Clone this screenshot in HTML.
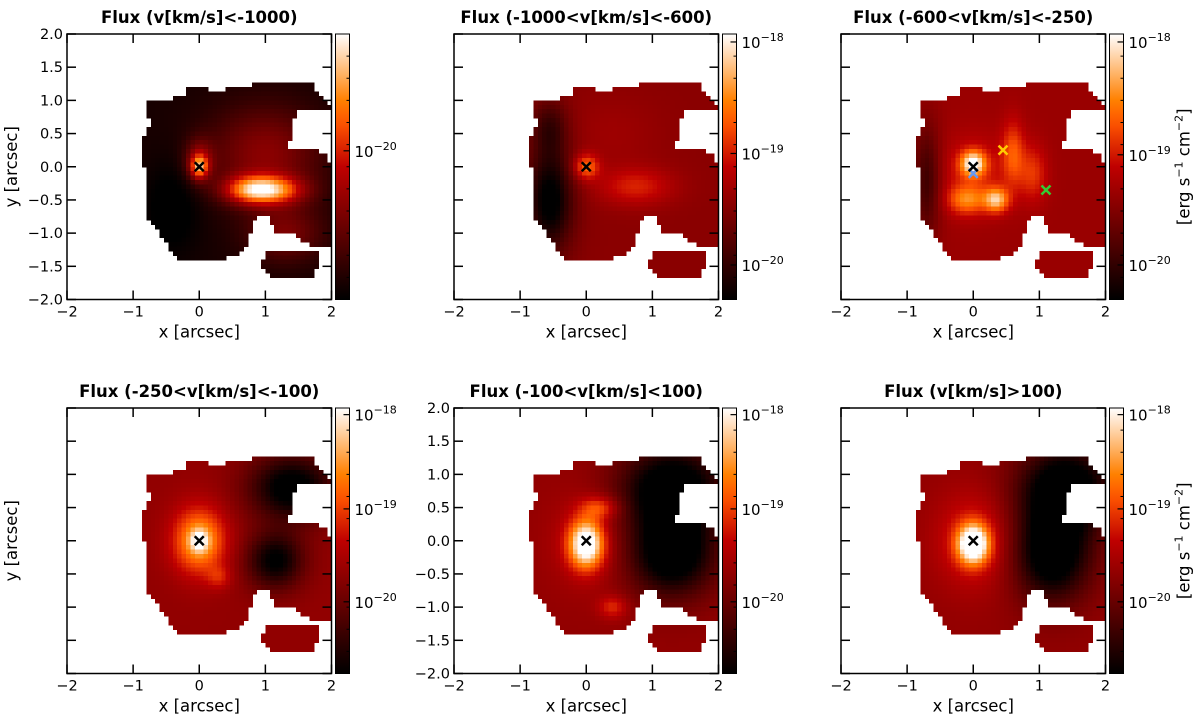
<!DOCTYPE html>
<html><head><meta charset="utf-8"><style>
body{margin:0;background:#fff;}
svg{display:block;font-family:"DejaVu Sans","Liberation Sans",sans-serif;}
</style></head><body>
<svg id="fig" width="1200" height="716" viewBox="0 0 1200 716"></svg>
<script>
// ---- data ----
const panelTitles=["Flux (v[km/s]<-1000)","Flux (-1000<v[km/s]<-600)","Flux (-600<v[km/s]<-250)","Flux (-250<v[km/s]<-100)","Flux (-100<v[km/s]<100)","Flux (v[km/s]>100)"];
const xTicks=[-2,-1,0,1,2];
const yTicks=[-2.0,-1.5,-1.0,-0.5,0.0,0.5,1.0,1.5,2.0];
const panelBg=[0.06,0.36,0.4,0.38,0.38,0.38];
// blobs: [x, y, sx, sy, amplitude]
const blobs1=[[1.0,0.2,0.6,0.5,0.3],[1.1,-0.35,0.35,0.15,0.55],[0.75,-0.35,0.3,0.15,0.4],[0,0,0.09,0.12,0.55],[0,0.1,0.15,0.22,0.3],[1.3,-1.0,0.4,0.3,0.25],[-0.4,-0.6,0.3,0.5,-0.1]];
const blobs2=[[0,0,0.13,0.13,0.35],[0.75,-0.3,0.4,0.2,0.2],[0.4,0.5,0.5,0.4,0.05],[-0.55,-0.5,0.25,0.55,-0.4],[-0.55,0.6,0.2,0.3,-0.2]];
const blobs3=[[0,0.05,0.13,0.13,0.55],[0.35,-0.5,0.13,0.13,0.45],[-0.1,-0.5,0.2,0.15,0.3],[0.6,0.2,0.12,0.35,0.25],[0.9,-0.1,0.15,0.3,0.2],[-0.7,-0.2,0.15,0.6,-0.25],[0,-0.1,0.35,0.4,0.15]];
const blobs4=[[0,0,0.28,0.35,0.45],[0,0,0.1,0.12,0.3],[0.3,-0.55,0.13,0.12,0.15],[1.4,0.8,0.45,0.35,-0.45],[1.15,-0.3,0.3,0.3,-0.4]];
const blobs5=[[0,-0.05,0.18,0.25,0.7],[0.2,0.5,0.2,0.12,0.25],[0.4,-1.0,0.15,0.12,0.2],[1.3,-0.2,0.45,0.45,-0.5],[1.3,0.8,0.55,0.45,-0.5],[0,0,0.4,0.5,0.1]];
const blobs6=[[0,-0.05,0.16,0.2,0.75],[0,0,0.4,0.5,0.2],[1.2,-0.2,0.4,0.5,-0.5],[1.4,0.8,0.5,0.45,-0.5]];
const panelBlobs=[blobs1,blobs2,blobs3,blobs4,blobs5,blobs6];
const maskMain=[[-0.2,1.2],[0.3,1.15],[0.9,1.25],[1.65,1.3],[1.9,1.0],[2,0.95],[2,0.85],[1.45,0.85],[1.35,0.3],[1.6,0.3],[1.9,0.2],[2,0.0],[2,-1.2],[1.7,-1.2],[1.4,-1.0],[1.15,-1.0],[1.05,-0.75],[0.85,-0.75],[0.7,-1.2],[0.5,-1.35],[0.2,-1.4],[-0.3,-1.4],[-0.55,-1.1],[-0.6,-0.95],[-0.8,-0.8],[-0.85,0.4],[-0.75,0.6],[-0.8,1.0],[-0.2,1.05]];
const maskBlob=[[1.0,-1.3],[1.8,-1.25],[1.75,-1.65],[1.1,-1.7],[0.95,-1.5]];
const cbTicks=[[["-20",0.44]],[["-18",0.03],["-19",0.45],["-20",0.87]],[["-18",0.03],["-19",0.455],["-20",0.87]],[["-18",0.025],["-19",0.38],["-20",0.73]],[["-18",0.025],["-19",0.38],["-20",0.73]],[["-18",0.025],["-19",0.38],["-20",0.73]]];
const markers3=[["#6699ee",0,-0.1],["#ffcc00",0.45,0.25],["#33cc33",1.1,-0.35]];
// ---- layout ----
const NS="http://www.w3.org/2000/svg";
const fig=document.getElementById('fig');
const colsX=[67,454,841], rowsY=[34,408], W=264.5, H=265.5;
function el(t,a,p){const e=document.createElementNS(NS,t);for(const k in a)e.setAttribute(k,a[k]);(p||fig).appendChild(e);return e;}
function cmap(v){v=Math.max(0,Math.min(1,v));const r=Math.min(1,1.5*v),g=Math.max(0,Math.min(1,2*v-1)),b=Math.max(0,Math.min(1,4*v-3));return `rgb(${Math.round(r*255)},${Math.round(g*255)},${Math.round(b*255)})`;}
function inPoly(x,y,p){let c=false;for(let i=0,j=p.length-1;i<p.length;j=i++){const [xi,yi]=p[i],[xj,yj]=p[j];if(((yi>y)!=(yj>y))&&(x<(xj-xi)*(y-yi)/(yj-yi)+xi))c=!c;}return c;}
const N=60;
for(let p=0;p<6;p++){
  const ox=colsX[p%3], oy=rowsY[Math.floor(p/3)];
  const sx=d=>ox+(d+2)/4*W, sy=d=>oy+(2-d)/4*H;
  const g=el('g',{});
  
  
  const t=el('text',{x:ox+W/2,y:oy-11,'text-anchor':'middle','font-size':'16.5','font-weight':'bold'},g);
  t.textContent=panelTitles[p];
  
  
  const img=el('g',{'shape-rendering':'crispEdges'},g);
  
  
  const cw=W/N, ch=H/N;
  for(let i=0;i<N;i++)for(let j=0;j<N;j++){
    const x=-2+(i+0.5)*4/N, y=2-(j+0.5)*4/N;
    if(!inPoly(x,y,maskMain)&&!inPoly(x,y,maskBlob))continue;
    let v=panelBg[p];
    for(const b of panelBlobs[p]){v+=b[4]*Math.exp(-0.5*(((x-b[0])/b[2])**2+((y-b[1])/b[3])**2));}
    const r=el('rect',{x:(ox+i*cw).toFixed(2),y:(oy+j*ch).toFixed(2),width:(cw+0.6).toFixed(2),height:(ch+0.6).toFixed(2),fill:cmap(v)},img);
    
    
  }
  const fr=el('rect',{x:ox,y:oy,width:W,height:H,fill:'none',stroke:'#000','stroke-width':1.5},g);
  
  
  for(const xt of xTicks){
    el('line',{x1:sx(xt),x2:sx(xt),y1:oy+H,y2:oy+H-9,stroke:'#000','stroke-width':1.5},g);
    el('line',{x1:sx(xt),x2:sx(xt),y1:oy,y2:oy+9,stroke:'#000','stroke-width':1.5},g);
    const l=el('text',{x:sx(xt),y:oy+H+17,'text-anchor':'middle','font-size':'14.5'},g);
    l.textContent=xt<0?'\u2212'+(-xt):String(xt);
    
    
  }
  for(const yt of yTicks){
    el('line',{x1:ox,x2:ox+9,y1:sy(yt),y2:sy(yt),stroke:'#000','stroke-width':1.5},g);
    el('line',{x1:ox+W,x2:ox+W-9,y1:sy(yt),y2:sy(yt),stroke:'#000','stroke-width':1.5},g);
    if(p==0||p==4){
      const l=el('text',{x:ox-4,y:sy(yt)+5,'text-anchor':'end','font-size':'14.5'},g);
      l.textContent=yt<0?'\u2212'+(-yt).toFixed(1):yt.toFixed(1);
      
      
    }
  }
  const xl=el('text',{x:ox+W/2,y:oy+H+38,'text-anchor':'middle','font-size':'16.5'},g);
  xl.textContent='x [arcsec]';
  
  
  if(p==0||p==3){
    const yl=el('text',{x:0,y:0,'text-anchor':'middle','font-size':'16.5',transform:`translate(${ox-50},${oy+H/2}) rotate(-90)`},g);
    yl.textContent='y [arcsec]';
    
    
  }
  const mk=(c,x,y)=>{const s=4.5,px=sx(x),py=sy(y);const m=el('path',{d:`M${px-s},${py-s}L${px+s},${py+s}M${px-s},${py+s}L${px+s},${py-s}`,stroke:c,'stroke-width':2.5},g);};
  if(p==2){for(const m of markers3)mk(m[0],m[1],m[2]);}
  mk('#000',0,0);
  const cx=ox+W+4, cbw=14;
  const gid='cbg'+p;
  const defs=el('defs',{},g);
  const lg=el('linearGradient',{id:gid,x1:0,y1:1,x2:0,y2:0},defs);
  for(let k=0;k<=20;k++)el('stop',{offset:k/20,'stop-color':cmap(k/20)},lg);
  const cb=el('rect',{x:cx,y:oy,width:cbw,height:H,fill:`url(#${gid})`,stroke:'#000','stroke-width':1},g);
  
  
  for(let k=1;k<12;k++){const yy=oy+H*(k/12);el('line',{x1:cx+cbw,x2:cx+cbw-3,y1:yy,y2:yy,stroke:'#000','stroke-width':1},g);}
  for(const [lab,f] of cbTicks[p]){
    const yy=oy+H*f;
    el('line',{x1:cx+cbw,x2:cx+cbw-6,y1:yy,y2:yy,stroke:'#000','stroke-width':1.2},g);
    const l=el('text',{x:cx+cbw+5,y:yy+6,'font-size':'15'},g);
    
    
    const a=el('tspan',{},l);a.textContent='10';
    const b=el('tspan',{dy:'-7','font-size':'11'},l);b.textContent=lab.replace('-','\u2212');
  }
  if(p==2||p==5){
    const ul=el('text',{x:0,y:0,'text-anchor':'middle','font-size':'16',transform:`translate(${cx+cbw+66},${oy+H/2}) rotate(-90)`},g);
    
    
    const parts=[['[erg s',0],['\u22121',-7],[' cm',7],['\u22122',-7],[']',7]];
    for(const [s,dy] of parts){const ts=el('tspan',{dy:dy,'font-size':dy<0?'11':'16.5'},ul);ts.textContent=s;}
  }
}
</script>
</body></html>
